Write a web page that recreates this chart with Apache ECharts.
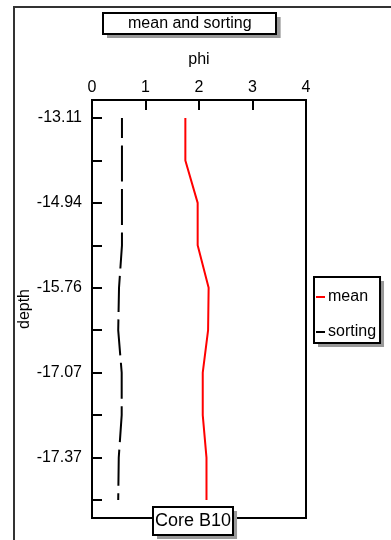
<!DOCTYPE html>
<html>
<head>
<meta charset="utf-8">
<script src="https://cdn.jsdelivr.net/npm/echarts@6/dist/echarts.min.js"></script>
<style>
html,body{margin:0;padding:0;background:#fff;}
#chart{width:391px;height:540px;}
</style>
</head>
<body>
<div id="chart"></div>
<script>
// depth labels for each sample (only every other one is labelled in the original)
const depthTicks = ['-13.11', '', '-14.94', '', '-15.76', '', '-17.07', '', '-17.37', ''];
const meanPhi    = [1.745, 1.745, 1.975, 1.975, 2.18, 2.17, 2.07, 2.07, 2.14, 2.14];
const sortingPhi = [0.56, 0.56, 0.56, 0.56, 0.505, 0.49, 0.555, 0.555, 0.50, 0.49];
const phiTicks   = [0, 1, 2, 3, 4];
const seriesNames = ['mean', 'sorting'];
const chartTitle = 'mean and sorting';
const coreName = 'Core B10';

const font = 'Liberation Sans, Arial, sans-serif';
const sampleIdx = depthTicks.map((d, i) => i);
const labelIdx = sampleIdx.filter(i => depthTicks[i] !== '');

const shadow = {shadowColor: '#999', shadowOffsetX: 4, shadowOffsetY: 4, shadowBlur: 0};

function boxTitle(text, left, top, padding, fontSize, lineHeight, withShadow) {
  const t = {
    text, left, top, padding,
    backgroundColor: '#fff',
    textStyle: {fontFamily: font, fontSize, fontWeight: 'normal', lineHeight,
                color: withShadow ? 'rgba(0,0,0,0)' : '#000'}
  };
  if (withShadow) { Object.assign(t, shadow, {borderWidth: 0, z: 5}); }
  else { Object.assign(t, {borderColor: '#000', borderWidth: 2, z: 7}); }
  return t;
}
function boxLegend(withShadow) {
  const l = {
    orient: 'vertical',
    left: 314, top: 277,
    padding: [12, 4, 3, 2],
    itemGap: 19,
    itemWidth: 9, itemHeight: 2,
    icon: 'rect',
    backgroundColor: '#fff',
    selectedMode: false,
    textStyle: {fontFamily: font, fontSize: 16, color: withShadow ? 'rgba(0,0,0,0)' : '#000', padding: [0, 0, 0, -2]},
    data: seriesNames
  };
  if (withShadow) { Object.assign(l, shadow, {borderWidth: 0, z: 3}); }
  else { Object.assign(l, {borderColor: '#000', borderWidth: 2, z: 4}); }
  return l;
}

const chart = echarts.init(document.getElementById('chart'), null, {renderer: 'canvas'});
chart.setOption({
  animation: false,
  backgroundColor: '#fff',
  textStyle: {fontFamily: font},
  graphic: [{
    type: 'rect', z: -10,
    shape: {x: 14, y: 7, width: 420, height: 600},
    style: {fill: 'none', stroke: '#333', lineWidth: 2}
  }],
  title: [
    boxTitle(chartTitle, 103, 13, [2, 25, 2, 25], 16, 17, true),
    boxTitle(chartTitle, 103, 13, [2, 25, 2, 25], 16, 17, false),
    boxTitle(coreName, 153, 507, [4, 2, 4, 2], 18, 20, true),
    boxTitle(coreName, 153, 507, [4, 2, 4, 2], 18, 20, false)
  ],
  legend: [boxLegend(true), boxLegend(false)],
  grid: {
    left: 92, top: 100, right: 85, bottom: 22,
    show: true, borderColor: '#000', borderWidth: 2, backgroundColor: 'transparent'
  },
  xAxis: {
    type: 'value', position: 'top',
    min: phiTicks[0], max: phiTicks[phiTicks.length - 1], interval: 1,
    name: 'phi', nameLocation: 'middle', nameGap: 32,
    nameTextStyle: {fontFamily: font, fontSize: 16, color: '#000'},
    axisLine: {show: true, onZero: false, lineStyle: {color: '#000', width: 2}},
    axisTick: {show: true, inside: true, length: 10, lineStyle: {color: '#000', width: 2}},
    axisLabel: {fontFamily: font, fontSize: 16, color: '#000', margin: 4},
    splitLine: {show: false}
  },
  yAxis: {
    type: 'value', inverse: true,
    min: -0.4241, max: depthTicks.length - 1 + 0.4241,
    name: 'depth', nameLocation: 'middle', nameGap: 59, nameMoveOverlap: false,
    nameTextStyle: {fontFamily: font, fontSize: 16, color: '#000'},
    axisLine: {show: true, onZero: false, lineStyle: {color: '#000', width: 2}},
    axisTick: {show: true, inside: true, length: 10, customValues: sampleIdx, lineStyle: {color: '#000', width: 2}},
    axisLabel: {
      fontFamily: font, fontSize: 16, color: '#000', margin: 10,
      customValues: labelIdx,
      formatter: v => depthTicks[Math.round(v)]
    },
    splitLine: {show: false}
  },
  series: [{
    name: seriesNames[0], type: 'line',
    color: '#ff0000',
    symbol: 'none', showSymbol: false,
    lineStyle: {color: '#ff0000', width: 2},
    data: meanPhi.map((v, i) => [v, i])
  }, {
    name: seriesNames[1], type: 'line',
    color: '#000',
    symbol: 'none', showSymbol: false,
    lineStyle: {color: '#000', width: 2, type: [36, 7.5], dashOffset: 16},
    data: sortingPhi.map((v, i) => [v, i])
  }]
});
</script>
</body>
</html>
